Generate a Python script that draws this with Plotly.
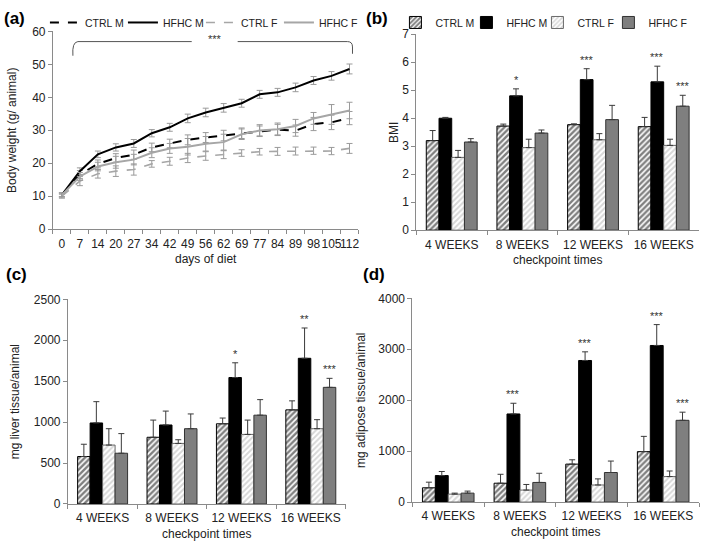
import plotly.graph_objects as go

W, H = 703, 549

# ---------------- Panel (a) data ----------------
days = ["0", "7", "14", "20", "27", "34", "42", "49", "56", "62", "69", "77", "84", "89", "98", "105", "112"]
ctrl_m_bw = [10.4, 16.6, 19.8, 21.6, 22.6, 24.8, 26.0, 27.1, 27.8, 28.4, 29.1, 29.8, 30.2, 29.9, 31.9, 32.4, 33.7]
hfhc_m_bw = [10.4, 17.6, 22.7, 24.8, 26.0, 29.1, 30.9, 33.6, 35.4, 36.8, 38.2, 40.9, 41.5, 43.0, 45.1, 46.5, 48.6]
ctrl_f_bw = [10.0, 14.6, 16.8, 17.6, 18.1, 19.8, 20.6, 21.6, 22.2, 22.6, 23.1, 23.5, 23.6, 23.7, 23.8, 23.7, 24.5]
hfhc_f_bw = [10.4, 16.0, 19.0, 20.3, 21.1, 23.2, 24.5, 25.0, 25.9, 26.4, 28.8, 29.9, 30.3, 31.3, 33.6, 34.8, 36.0]
ctrl_m_bw_err = [0.6, 1.2, 1.2, 1.3, 1.4, 1.3, 1.3, 1.5, 1.5, 1.6, 1.6, 1.5, 1.6, 1.7, 2.0, 2.2, 2.0]
hfhc_m_bw_err = [0.6, 1.0, 1.0, 1.1, 1.2, 1.1, 1.2, 1.3, 1.3, 1.3, 1.2, 1.2, 1.2, 1.3, 1.2, 1.3, 1.5]
ctrl_f_bw_err = [0.6, 1.4, 1.3, 1.6, 1.7, 1.0, 1.2, 1.4, 1.3, 1.2, 1.0, 1.0, 1.2, 1.2, 1.1, 1.1, 1.5]
hfhc_f_bw_err = [0.6, 1.2, 1.3, 1.8, 1.6, 1.5, 1.5, 2.5, 2.2, 2.4, 1.6, 1.8, 1.9, 2.0, 1.8, 3.0, 2.5]

# ---------------- Bar panels data ----------------
weeks = ["4 WEEKS", "8 WEEKS", "12 WEEKS", "16 WEEKS"]
groups = ["CTRL M", "HFHC M", "CTRL F", "HFHC F"]

bmi = {
    "CTRL M": [3.2, 3.72, 3.77, 3.7],
    "HFHC M": [4.0, 4.8, 5.38, 5.3],
    "CTRL F": [2.6, 2.95, 3.23, 3.03],
    "HFHC F": [3.15, 3.47, 3.95, 4.43],
}
bmi_err = {
    "CTRL M": [0.36, 0.07, 0.03, 0.33],
    "HFHC M": [0.03, 0.25, 0.39, 0.56],
    "CTRL F": [0.25, 0.3, 0.22, 0.22],
    "HFHC F": [0.12, 0.11, 0.51, 0.39],
}
bmi_sig = {"HFHC M": ["", "*", "***", "***"], "HFHC F": ["", "", "", "***"]}

liver = {
    "CTRL M": [580, 815, 980, 1150],
    "HFHC M": [990, 965, 1545, 1780],
    "CTRL F": [720, 740, 850, 920],
    "HFHC F": [620, 920, 1085, 1425],
}
liver_err = {
    "CTRL M": [150, 210, 70, 110],
    "HFHC M": [260, 170, 180, 370],
    "CTRL F": [200, 45, 175, 110],
    "HFHC F": [240, 180, 190, 110],
}
liver_sig = {"HFHC M": ["", "", "*", "**"], "HFHC F": ["", "", "", "***"]}

adipose = {
    "CTRL M": [280, 370, 745, 990],
    "HFHC M": [520, 1730, 2780, 3075],
    "CTRL F": [155, 235, 335, 500],
    "HFHC F": [175, 385, 580, 1605],
}
adipose_err = {
    "CTRL M": [110, 175, 85, 300],
    "HFHC M": [80, 210, 170, 410],
    "CTRL F": [20, 110, 120, 110],
    "HFHC F": [40, 180, 225, 160],
}
adipose_sig = {"HFHC M": ["", "***", "***", "***"], "HFHC F": ["", "", "", "***"]}

FONT = "Liberation Sans, Arial, sans-serif"
AXC = "#8a8a8a"

fig = go.Figure()

# ---------- Panel (a) lines ----------
line_specs = [
    ("CTRL M", ctrl_m_bw, ctrl_m_bw_err, dict(color="black", width=2, dash="dash")),
    ("HFHC M", hfhc_m_bw, hfhc_m_bw_err, dict(color="black", width=2)),
    ("CTRL F", ctrl_f_bw, ctrl_f_bw_err, dict(color="#a6a6a6", width=1.6, dash="dash")),
    ("HFHC F", hfhc_f_bw, hfhc_f_bw_err, dict(color="#a6a6a6", width=2)),
]
for name, ys, es, ln in line_specs:
    fig.add_trace(go.Scatter(
        x=days, y=ys, name=name, mode="lines", line=ln,
        error_y=dict(type="data", array=es, color="#9a9a9a", thickness=1, width=3),
        xaxis="x", yaxis="y", legend="legend",
        legendwidth=44 if name == "HFHC F" else None,
    ))

# ---------- Bar styles ----------
bar_styles = {
    "CTRL M": dict(color="white", line=dict(color="black", width=1),
                   pattern=dict(shape="/", fgcolor="black", bgcolor="white", size=4, solidity=0.6)),
    "HFHC M": dict(color="black", line=dict(color="black", width=1)),
    "CTRL F": dict(color="white", line=dict(color="#6a6a6a", width=1),
                   pattern=dict(shape="/", fgcolor="#b0b0b0", bgcolor="white", size=4, solidity=0.5)),
    "HFHC F": dict(color="#7f7f7f", line=dict(color="#333333", width=1)),
}

panels = [
    ("2", bmi, bmi_err, bmi_sig, True),
    ("3", liver, liver_err, liver_sig, False),
    ("4", adipose, adipose_err, adipose_sig, False),
]
for ax, vals, errs, sig, showleg in panels:
    for g in groups:
        fig.add_trace(go.Bar(
            x=weeks, y=vals[g], name=g, marker=bar_styles[g],
            error_y=dict(type="data", symmetric=False, array=errs[g],
                         arrayminus=[0] * len(weeks), color="#3a3a3a", thickness=1, width=3),
            xaxis="x" + ax, yaxis="y" + ax, legend="legend2", showlegend=showleg,
            legendwidth=46 if g == "HFHC F" else None,
        ))

# domains (paper fractions)
dom = {
    "a": dict(x=[53 / W, 359 / W], y=[1 - 228 / H, 1 - 25 / H], r=[0, 60]),
    "b": dict(x=[417 / W, 700 / W], y=[1 - 229 / H, 1 - 28 / H], r=[0, 7]),
    "c": dict(x=[68 / W, 346 / W], y=[1 - 510 / H, 1 - 300 / H], r=[0, 2500]),
    "d": dict(x=[413 / W, 700 / W], y=[1 - 508 / H, 1 - 299 / H], r=[0, 4000]),
}

tickfont = dict(family=FONT, size=12, color="#222")
titlefont = dict(family=FONT, size=12, color="#222")


def xaxis_cfg(d, title, n):
    return dict(domain=d["x"], type="category", range=[-0.5, n - 0.5], tickangle=0,
                showline=True, linecolor=AXC, linewidth=1, ticks="outside", tickson="boundaries",
                ticklen=4, tickcolor=AXC, showgrid=False, zeroline=False, tickfont=tickfont,
                ticklabelstandoff=3,
                title=dict(text=title, font=titlefont, standoff=5), fixedrange=True)


def yaxis_cfg(d, title, dtick, standoff):
    return dict(domain=d["y"], range=d["r"], dtick=dtick, showline=True, linecolor=AXC, linewidth=1,
                ticks="outside", ticklen=4, tickcolor=AXC, showgrid=False, zeroline=False,
                tickfont=tickfont, title=dict(text=title, font=titlefont, standoff=standoff))


bargap = 0.28
fig.update_layout(
    width=W, height=H,
    margin=dict(l=0, r=0, t=0, b=0),
    paper_bgcolor="white", plot_bgcolor="rgba(0,0,0,0)",
    font=dict(family=FONT, size=12, color="#222"),
    barmode="group", bargap=bargap, bargroupgap=0.0,
    xaxis=dict(xaxis_cfg(dom["a"], "days of diet", len(days)), anchor="y"),
    yaxis=dict(yaxis_cfg(dom["a"], "Body weight (g/ animal)", 10, 12), anchor="x"),
    xaxis2=dict(xaxis_cfg(dom["b"], "checkpoint times", 4), anchor="y2"),
    yaxis2=dict(yaxis_cfg(dom["b"], "BMI", 1, 1), anchor="x2"),
    xaxis3=dict(xaxis_cfg(dom["c"], "checkpoint times", 4), anchor="y3"),
    yaxis3=dict(yaxis_cfg(dom["c"], "mg liver tissue/animal", 500, 11), anchor="x3"),
    xaxis4=dict(xaxis_cfg(dom["d"], "checkpoint times", 4), anchor="y4"),
    yaxis4=dict(yaxis_cfg(dom["d"], "mg adipose tissue/animal", 1000, 10), anchor="x4"),
    legend=dict(orientation="h", x=45 / W, y=1 - 1 / H, xanchor="left", yanchor="top",
                font=dict(family=FONT, size=10.5, color="#222"), bgcolor="rgba(0,0,0,0)",
                itemwidth=30, entrywidth=33, entrywidthmode="pixels"),
    legend2=dict(orientation="h", x=396 / W, y=1 - 1 / H, xanchor="left", yanchor="top",
                 font=dict(family=FONT, size=10.5, color="#222"), bgcolor="rgba(0,0,0,0)",
                 itemwidth=30, entrywidth=26, entrywidthmode="pixels"),
    showlegend=True,
)

# significance stars above bars
annots = []
for ax, vals, errs, sig, _ in panels:
    key = {"2": "b", "3": "c", "4": "d"}[ax]
    d = dom[key]
    cat_px = (d["x"][1] - d["x"][0]) * W / len(weeks)
    bw = cat_px * (1 - bargap) / len(groups)
    for g, marks in sig.items():
        gi = groups.index(g)
        off = (gi - (len(groups) - 1) / 2) * bw
        for i, m in enumerate(marks):
            if m:
                annots.append(dict(x=weeks[i], y=vals[g][i] + errs[g][i], xref="x" + ax, yref="y" + ax,
                                   text=m, showarrow=False, xshift=off, yshift=1, yanchor="bottom",
                                   font=dict(family=FONT, size=11, color="#333")))

# panel labels
for lab, px, py in [("(a)", 2, 12), ("(b)", 365, 12), ("(c)", 4, 274), ("(d)", 362, 274)]:
    annots.append(dict(x=px / W, y=1 - py / H, xref="paper", yref="paper", text="<b>" + lab + "</b>",
                       showarrow=False, xanchor="left", yanchor="middle",
                       font=dict(family=FONT, size=17, color="black")))

# bracket "***" in panel (a)
annots.append(dict(x=215 / W, y=1 - 33 / H, xref="paper", yref="paper", text="***", showarrow=False,
                   xanchor="center", yanchor="middle", font=dict(family=FONT, size=11, color="#333")))
fig.update_layout(annotations=annots)


def P(px, py):
    return f"{px / W:.5f},{1 - py / H:.5f}"


bracket_left = f"M {P(73, 50)} Q {P(72, 36)} {P(78, 35.5)} L {P(192, 35.5)}"
bracket_right = f"M {P(238, 35.5)} L {P(348, 35.5)} Q {P(353, 35.5)} {P(353, 41)} L {P(353, 48)}"
fig.update_layout(shapes=[
    dict(type="path", path=bracket_left, xref="paper", yref="paper", line=dict(color="#555", width=1)),
    dict(type="path", path=bracket_right, xref="paper", yref="paper", line=dict(color="#555", width=1)),
])

fig.write_html("out.html", config={"displayModeBar": False},
               post_script="document.body.style.margin='0px';")
